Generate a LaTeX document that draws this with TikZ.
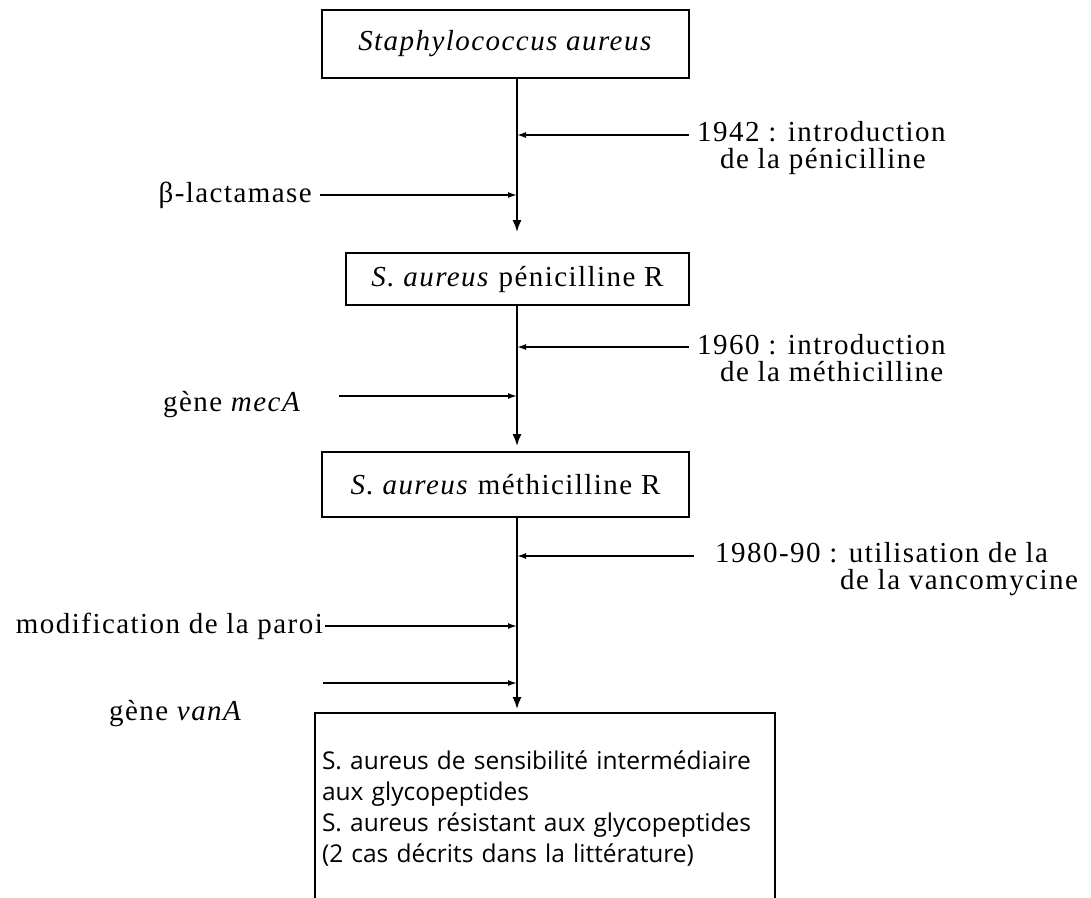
\documentclass[tikz,border=0pt]{standalone}
\usepackage{fontspec}
\setmainfont{Liberation Serif}[LetterSpace=5]
\newfontfamily\boxfont{Open Sans}
\usetikzlibrary{arrows.meta}

\begin{document}
\begin{tikzpicture}[> = {Latex[length = 9pt, width = 6pt]}, x = 1pt, y = -1pt,
	font = \fontsize{29}{27}\selectfont,
	box/.style = {draw, line width = 1.6pt, inner sep = 0pt},
	note/.style = {inner sep = 0pt, align = left},
	right note/.style = {note, anchor = west, inner xsep = 8pt},
	feed/.style = {->, line width = 1.5pt},
	flow/.style = {-{Latex[length = 12pt, width = 9pt]}, line width = 2.2pt}]

	% Definition
	
	\def\X{517};
	
	\useasboundingbox (0, 0) rectangle (1091, 897);
	
	% Boxes
	
	\node [box, minimum width = 367pt, minimum height = 68pt] (staph) at (505.5, 44) {\textit{Staphylococcus aureus}};
	\node [box, minimum width = 343pt, minimum height = 52pt] (penR) at (517.5, 279) {\textit{S. aureus} pénicilline R};
	\node [box, minimum width = 367pt, minimum height = 65pt] (metR) at (505.5, 484.5) {\textit{S. aureus} méthicilline R};
	\node [box, minimum width = 460pt, minimum height = 192pt, text width = 446pt, inner xsep = 7pt, align = left, font = \boxfont\fontsize{24.5}{31}\selectfont] (glyco) at (545, 809) {S. aureus de sensibilité intermédiaire\\ aux glycopeptides\\ S. aureus résistant aux glycopeptides\\ (2 cas décrits dans la littérature)};
	
	% Main line
	
	\coordinate (spine) at (\X, 0);
	\draw [flow, shorten >= 20pt] (staph.south -| spine) -- (penR.north -| spine);
	\draw [flow, shorten >= 5pt] (penR.south -| spine) -- (metR.north -| spine);
	\draw [flow, shorten >= 3pt] (metR.south -| spine) -- (glyco.north -| spine);
	
	% Antibiotics coming in from the right
	
	\node [right note] (t1942) at (689, 148.5) {1942 : introduction\\ \hspace*{23pt}de la pénicilline};
	\node [right note] (t1960) at (689, 358.5) {1960 : introduction\\ \hspace*{23pt}de la méthicilline};
	\node [right note, inner xsep = 21pt] (t1980) at (694, 569.5) {1980-90 : utilisation de la\\ \hspace*{125pt}de la vancomycine};
	
	\foreach \name/\y in {t1942/135, t1960/347, t1980/556}
	{
		\coordinate (in-\name) at (\X, \y);
		\draw [feed] (\name.west |- in-\name) -- (in-\name);
	}
	
	% Resistance mechanisms coming in from the left
	
	\node [note, anchor = east, inner xsep = 8pt] (blact) at (320, 195) {β-lactamase};
	\node [note, anchor = west] (mecA) at (163, 405) {gène \textit{mecA}};
	\node [note, anchor = east, inner xsep = 2pt] (paroi) at (325, 626) {modification de la paroi};
	\node [note, anchor = west] (vanA) at (109, 714) {gène \textit{vanA}};
	
	\coordinate (from-mecA) at (339, 396);
	\coordinate (from-vanA) at (323, 683);
	
	\draw [feed] (blact.east) -- (blact.east -| spine);
	\draw [feed] (from-mecA) -- (from-mecA -| spine);
	\draw [feed] (paroi.east) -- (paroi.east -| spine);
	\draw [feed] (from-vanA) -- (from-vanA -| spine);

\end{tikzpicture}
\end{document}
